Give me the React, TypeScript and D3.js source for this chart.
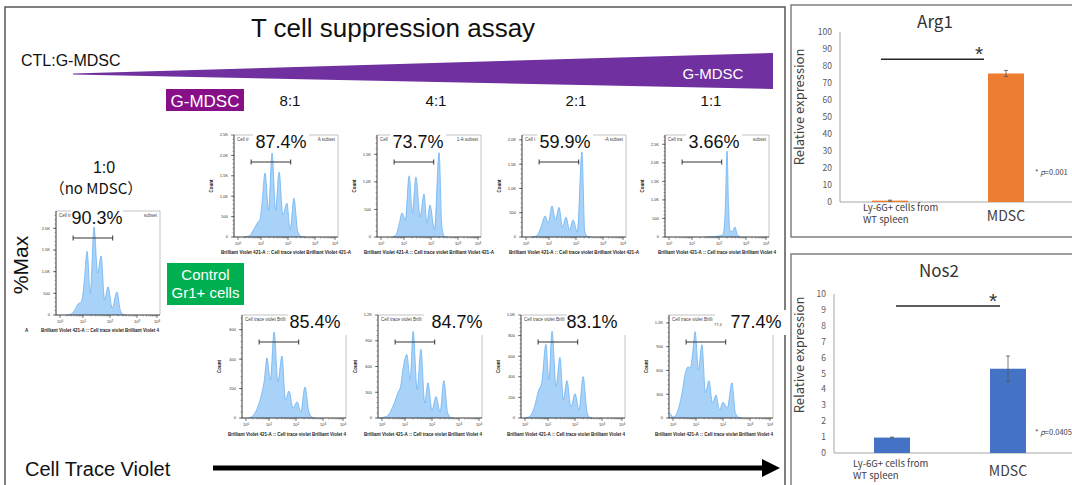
import React from 'react';
import * as d3 from 'd3';

type Pt = [number, number];

// histogram traces: [decade of Cell Trace Violet, count]
const noMdscHist: Pt[] = [[0.3,0],[0.5,25],[0.66,130],[0.78,250],[0.87,280],[0.96,360],[1.05,800],[1.15,1470],[1.27,505],[1.41,2030],[1.54,965],[1.67,1360],[1.8,345],[1.93,650],[2.08,160],[2.26,530],[2.38,110],[2.48,15],[2.6,0]];
const mdsc81Hist: Pt[] = [[0.25,0],[0.5,30],[0.7,200],[0.87,370],[0.95,420],[1.04,850],[1.15,1570],[1.28,660],[1.41,2060],[1.54,660],[1.67,1590],[1.81,540],[1.96,830],[2.08,170],[2.22,950],[2.36,140],[2.5,10],[2.65,0]];
const mdsc41Hist: Pt[] = [[0.5,0],[0.65,40],[0.8,250],[0.91,436],[1.05,310],[1.19,1110],[1.31,435],[1.44,1090],[1.6,365],[1.74,780],[1.85,255],[1.96,580],[2.13,130],[2.3,1530],[2.4,200],[2.5,10],[2.6,0]];
const mdsc21Hist: Pt[] = [[0.25,0],[0.45,20],[0.65,200],[0.83,430],[0.97,290],[1.11,640],[1.24,350],[1.37,610],[1.5,205],[1.63,410],[1.76,145],[1.89,350],[2.05,105],[2.22,1750],[2.32,150],[2.42,10],[2.55,0]];
const mdsc11Hist: Pt[] = [[1.5,0],[1.8,10],[2.05,35],[2.16,90],[2.23,700],[2.3,2320],[2.35,900],[2.41,160],[2.5,150],[2.59,270],[2.68,60],[2.8,0]];
const ctrl81Hist: Pt[] = [[0.1,0],[0.3,15],[0.5,70],[0.7,177],[0.8,260],[0.91,408],[1.05,258],[1.19,585],[1.33,245],[1.48,421],[1.61,122],[1.74,183],[1.89,68],[2.04,109],[2.18,40],[2.33,211],[2.48,40],[2.6,5],[2.7,0]];
const ctrl41Hist: Pt[] = [[-0.1,0],[0.2,20],[0.5,150],[0.7,300],[0.8,360],[0.93,600],[1.07,741],[1.19,447],[1.3,1010],[1.45,330],[1.59,800],[1.73,176],[1.85,410],[2.0,94],[2.15,250],[2.3,70],[2.44,435],[2.58,60],[2.7,5],[2.8,0]];
const ctrl21Hist: Pt[] = [[0.0,0],[0.2,15],[0.4,100],[0.6,275],[0.72,330],[0.91,716],[1.03,372],[1.15,843],[1.3,304],[1.44,588],[1.57,176],[1.7,363],[1.85,108],[2.0,235],[2.15,78],[2.3,402],[2.45,50],[2.55,5],[2.65,0]];
const ctrl11Hist: Pt[] = [[-0.1,60],[0.0,10],[0.15,50],[0.35,250],[0.55,580],[0.65,645],[0.75,630],[0.85,800],[0.96,1090],[1.09,607],[1.22,925],[1.35,316],[1.48,470],[1.61,190],[1.74,290],[1.87,100],[2.0,200],[2.16,127],[2.33,445],[2.46,60],[2.6,5],[2.7,0]];

const ratioLabels = ['8:1', '4:1', '2:1', '1:1'];
const mdscPercents = ['87.4%', '73.7%', '59.9%', '3.66%'];
const controlPercents = ['85.4%', '84.7%', '83.1%', '77.4%'];
const noMdscPercent = '90.3%';
const mdscYMax = [2500, 1850, 2100, 2750];
const mdscYTicks = [[0, 500, 1000, 1500, 2000, 2500], [0, 500, 1000, 1500], [0, 500, 1000, 1500, 2000], [0, 500, 1000, 1500, 2000, 2500]];
const controlYMax = [700, 1200, 1000, 1300];
const controlYTicks = [[0, 200, 400, 600], [0, 300, 600, 900, 1200], [0, 200, 400, 600, 800, 1000], [0, 300, 600, 900, 1200]];
const noMdscYMax = 2400;
const noMdscYTicks = [0, 500, 1000, 1500, 2000];
const gateDecades = [0.57, 2.1];
const xDecades = [0, 1, 2, 3, 4];
const mdscHeadL = ['Cell tr', 'Cell', 'Cell t', 'Cell tra'];
const mdscHeadR = ['A subset', '1-A subset', '-A subset', 'subset'];

const barCategories = ['Ly-6G+ cells from WT spleen', 'MDSC'];
const arg1Values = [0.8, 75.6];
const arg1Errors = [0.3, 1.8];
const nos2Values = [0.97, 5.3];
const nos2Errors = [0.03, 0.8];

const SANS = 'Liberation Sans, Arial, sans-serif';
const JP = '"Noto Sans CJK JP", "Noto Sans", sans-serif';

const fmtCount = (v: number) => (v >= 1000 ? (v / 1000).toFixed(1) + 'K' : String(v));

function Histogram(p: any) {
  const { left, top, bottom, data, yMax, yTicks, pct, pctX, pctBox, headL, headR, xLabel, xLabelX, xLabelW, xLabelY, count } = p;
  const width = 104;
  const x = d3.scaleLinear().domain([-0.15, 0, 1, 2, 3, 4]).range([0, 4, 27, 54, 81, 101].map(v => left + v)).clamp(true);
  const y = d3.scaleLinear().domain([0, yMax]).range([bottom, top]);
  const area = d3.area<Pt>().x(d => x(d[0])).y0(bottom).y1(d => y(d[1])).curve(d3.curveMonotoneX);
  const line = d3.line<Pt>().x(d => x(d[0])).y(d => y(d[1])).curve(d3.curveMonotoneX);
  const minorX: number[] = [];
  for (let d = 0; d < 4; d++) for (let k = 2; k < 10; k++) minorX.push(d + Math.log10(k));
  const step = yTicks[1] - yTicks[0];
  const minorY = d3.range(0, yMax, step / 5);
  const gy = top + 27;
  return (
    <g fontFamily={SANS}>
      <path d={area(data) || ''} fill="#a9d2f8" />
      <path d={line(data) || ''} fill="none" stroke="#6cb2f2" strokeWidth={0.8} />
      <line x1={left} x2={left + width} y1={top} y2={top} stroke="#aaa" strokeWidth={0.7} />
      <line x1={left + width} x2={left + width} y1={top} y2={bottom} stroke="#aaa" strokeWidth={0.7} />
      <line x1={left} x2={left} y1={top} y2={bottom} stroke="#222" strokeWidth={0.9} />
      <line x1={left} x2={left + width} y1={bottom} y2={bottom} stroke="#222" strokeWidth={0.9} />
      {minorY.map((v, i) => (
        <line key={'my' + i} x1={left - 1.5} x2={left} y1={y(v)} y2={y(v)} stroke="#333" strokeWidth={0.4} />
      ))}
      {yTicks.map((v: number) => (
        <g key={'y' + v}>
          <line x1={left - 3} x2={left} y1={y(v)} y2={y(v)} stroke="#222" strokeWidth={0.6} />
          <text x={left - 6} y={y(v) + 1.4} fontSize={4} textAnchor="end" fill="#333">{fmtCount(v)}</text>
        </g>
      ))}
      {minorX.map((v, i) => (
        <line key={'mx' + i} x1={x(v)} x2={x(v)} y1={bottom} y2={bottom + 1.5} stroke="#333" strokeWidth={0.4} />
      ))}
      {xDecades.map(d => (
        <g key={'x' + d}>
          <line x1={x(d)} x2={x(d)} y1={bottom} y2={bottom + 3} stroke="#222" strokeWidth={0.6} />
          <text x={x(d)} y={bottom + 8} fontSize={4} textAnchor="middle" fill="#333">
            10<tspan fontSize={3} dy={-1.5}>{d}</tspan>
          </text>
        </g>
      ))}
      <line x1={x(gateDecades[0])} x2={x(gateDecades[1])} y1={gy} y2={gy} stroke="#333" strokeWidth={1.2} />
      <line x1={x(gateDecades[0])} x2={x(gateDecades[0])} y1={gy - 2.5} y2={gy + 2.5} stroke="#333" strokeWidth={1} />
      <line x1={x(gateDecades[1])} x2={x(gateDecades[1])} y1={gy - 2.5} y2={gy + 2.5} stroke="#333" strokeWidth={1} />
      <text x={left + 3} y={top + 6} fontSize={4.5} fill="#444">{headL}</text>
      {headR && <text x={left + width - 3} y={top + 6} fontSize={4.5} fill="#444" textAnchor="end">{headR}</text>}
      <rect x={pctBox[0]} y={pctBox[1]} width={pctBox[2]} height={pctBox[3]} fill="#fff" />
      <text x={pctX} y={top + 12.5} fontSize={18} textAnchor="middle" fill="#111">{pct}</text>
      {count && (
        <text transform={`translate(${left - 21},${(top + bottom) / 2}) rotate(-90)`} fontSize={4.5} fontWeight="bold" textAnchor="middle" fill="#222">Count</text>
      )}
      <text x={xLabelX} y={xLabelY} fontSize={4.5} fontWeight="bold" textAnchor="middle" fill="#222" textLength={xLabelW} lengthAdjust="spacingAndGlyphs">{xLabel}</text>
    </g>
  );
}

function BarPanel(p: any) {
  const { title, titleX, titleY, values, errors, color, yMax, yRange, axisX, band, ylabelY, sigVal, sigX, starX, pText, pY, catX, catY, mdscY, frameTop, frameBottom } = p;
  const y = d3.scaleLinear().domain([0, yMax]).range(yRange);
  const x = d3.scaleBand<string>().domain(barCategories).range(band);
  const ticks = d3.range(0, yMax + 0.001, yMax / 10);
  const bw = 36;
  const words = barCategories[0].split(' WT ');
  return (
    <g fontFamily={JP}>
      <rect x={791} y={frameTop} width={300} height={frameBottom - frameTop} fill="none" stroke="#808080" strokeWidth={1.5} />
      <text x={titleX} y={titleY} fontSize={17} textAnchor="middle" fill="#333">{title}</text>
      <text transform={`translate(804,${ylabelY}) rotate(-90)`} fontSize={13} textAnchor="middle" fill="#404040">Relative expression</text>
      <line x1={axisX} x2={axisX} y1={yRange[0]} y2={yRange[1]} stroke="#a6a6a6" strokeWidth={1} />
      <line x1={axisX} x2={1072} y1={yRange[0]} y2={yRange[0]} stroke="#a6a6a6" strokeWidth={1} />
      {ticks.map(t => (
        <text key={t} x={axisX - 8} y={y(t) + 3} fontSize={8.5} textAnchor="end" fill="#595959">{Math.round(t)}</text>
      ))}
      {barCategories.map((c, i) => {
        const cx = (x(c) as number) + x.bandwidth() / 2;
        return (
          <g key={c}>
            <rect x={cx - bw / 2} y={y(values[i])} width={bw} height={y(0) - y(values[i])} fill={color} />
            <line x1={cx} x2={cx} y1={y(values[i] + errors[i])} y2={y(values[i] - errors[i])} stroke="#595959" strokeWidth={0.8} />
            <line x1={cx - 2} x2={cx + 2} y1={y(values[i] + errors[i])} y2={y(values[i] + errors[i])} stroke="#595959" strokeWidth={0.8} />
            <line x1={cx - 2} x2={cx + 2} y1={y(values[i] - errors[i])} y2={y(values[i] - errors[i])} stroke="#595959" strokeWidth={0.8} />
          </g>
        );
      })}
      <line x1={sigX[0]} x2={sigX[1]} y1={y(sigVal)} y2={y(sigVal)} stroke="#262626" strokeWidth={1.5} />
      <text x={starX} y={y(sigVal) + 2} fontSize={21} textAnchor="middle" fill="#333" fontFamily={SANS}>*</text>
      <text x={1035} y={pY} fontSize={7.5} fill="#444">* <tspan fontStyle="italic">p</tspan>{pText}</text>
      <text x={catX} y={catY} fontSize={9.5} fill="#404040">{words[0]}</text>
      <text x={catX} y={catY + 12} fontSize={9.5} fill="#404040">{'WT ' + words[1]}</text>
      <text x={(x('MDSC') as number) + x.bandwidth() / 2} y={mdscY} fontSize={14} textAnchor="middle" fill="#404040">MDSC</text>
    </g>
  );
}

export default function App() {
  const topLefts = [234, 377, 522, 665];
  const botLefts = [242, 378, 521, 669];
  const mdscHists = [mdsc81Hist, mdsc41Hist, mdsc21Hist, mdsc11Hist];
  const ctrlHists = [ctrl81Hist, ctrl41Hist, ctrl21Hist, ctrl11Hist];
  const topPctDx = [47, 41, 43, 49];
  const botPctDx = [73, 79, 71, 87];
  const ratioX = [290, 436, 576, 711];
  const wedge = d3.line()([[73, 73.5], [773, 53], [773, 89], [73, 74.5]]) + 'Z';
  const longLabel = 'Brilliant Violet 421-A :: Cell trace violet Brilliant Violet 421-A';
  const shortLabel = 'Brilliant Violet 421-A :: Cell trace violet Brilliant Violet 4';
  return (
    <div style={{ position: 'absolute', left: 0, top: 0 }}>
      <svg width={1072} height={485} style={{ display: 'block', background: '#fff' }}>
        <rect x={5} y={7} width={780} height={490} fill="none" stroke="#555" strokeWidth={1.5} />
        <g fontFamily={SANS}>
          <text x={393} y={37} fontSize={26} textAnchor="middle" fill="#111">T cell suppression assay</text>
          <text x={21} y={66} fontSize={16} fill="#111">CTL:G-MDSC</text>
          <path d={wedge} fill="#7030a0" />
          <text x={713} y={79} fontSize={15} textAnchor="middle" fill="#fff">G-MDSC</text>
          <rect x={166} y={89} width={78} height={22} fill="#870f87" />
          <text x={205} y={106.5} fontSize={17} textAnchor="middle" fill="#fff">G-MDSC</text>
          {ratioLabels.map((r, i) => (
            <text key={r} x={ratioX[i]} y={106} fontSize={15} textAnchor="middle" fill="#111">{r}</text>
          ))}
          <text x={104} y={173} fontSize={16} textAnchor="middle" fill="#111">1:0</text>
          <text x={96} y={194} fontSize={15} textAnchor="middle" fill="#111" fontFamily={'"Noto Sans CJK JP", sans-serif'}>（no MDSC）</text>
          <text transform="translate(28,265) rotate(-90)" fontSize={21} textAnchor="middle" fill="#111">%Max</text>
          <rect x={167} y={263} width={77} height={42} fill="#00b050" />
          <text x={205.5} y={280} fontSize={15} textAnchor="middle" fill="#fff">Control</text>
          <text x={205.5} y={298} fontSize={15} textAnchor="middle" fill="#fff">Gr1+ cells</text>
          <text x={25} y={476} fontSize={20} fill="#111">Cell Trace Violet</text>
          <line x1={213} x2={765} y1={468} y2={468} stroke="#000" strokeWidth={5} />
          <path d={d3.line()([[762, 459], [780, 468], [762, 477]]) + 'Z'} fill="#000" />
          <text x={25} y={332} fontSize={4.5} fontWeight="bold" fill="#222">A</text>
        </g>

        <Histogram left={56} top={211} bottom={315} data={noMdscHist} yMax={noMdscYMax} yTicks={noMdscYTicks}
          pct={noMdscPercent} pctX={97} pctBox={[71, 207, 52, 17]} headL="Cell tr" headR="subset"
          xLabel={shortLabel} xLabelX={100} xLabelW={118} xLabelY={332} count={false} />

        {topLefts.map((L, i) => (
          <Histogram key={'t' + i} left={L} top={135} bottom={237} data={mdscHists[i]} yMax={mdscYMax[i]} yTicks={mdscYTicks[i]}
            pct={mdscPercents[i]} pctX={L + topPctDx[i]} pctBox={[L + topPctDx[i] - 28, 131, 56, 17]}
            headL={mdscHeadL[i]} headR={mdscHeadR[i]}
            xLabel={i === 3 ? shortLabel : longLabel} xLabelX={L + 52} xLabelW={i === 3 ? 118 : 130} xLabelY={254} count />
        ))}

        {botLefts.map((L, i) => (
          <Histogram key={'b' + i} left={L} top={315} bottom={418} data={ctrlHists[i]} yMax={controlYMax[i]} yTicks={controlYTicks[i]}
            pct={controlPercents[i]} pctX={L + botPctDx[i]} pctBox={[L + 46, 310, Math.max(64, botPctDx[i] + 34 - 46), 25]}
            headL="Cell trace violet Brilli" headR={null}
            xLabel={shortLabel} xLabelX={L + 45} xLabelW={118} xLabelY={436} count />
        ))}
        <text x={669 + 45} y={326} fontSize={4} fill="#444" fontFamily={SANS}>77.4</text>

        <BarPanel title="Arg1" titleX={935} titleY={28} values={arg1Values} errors={arg1Errors} color="#ed7d31"
          yMax={100} yRange={[202, 32]} axisX={840} band={[832, 1064]} ylabelY={107}
          sigVal={84} sigX={[881, 984]} starX={979} pText="=0.001" pY={175}
          catX={863} catY={211} mdscY={221} frameTop={5} frameBottom={237} />
        <BarPanel title="Nos2" titleX={939} titleY={277} values={nos2Values} errors={nos2Errors} color="#4472c4"
          yMax={10} yRange={[453, 294]} axisX={834} band={[834, 1066]} ylabelY={355}
          sigVal={9.25} sigX={[896, 1000]} starX={993} pText="=0.0405" pY={435}
          catX={853} catY={467} mdscY={476} frameTop={254} frameBottom={520} />
      </svg>
    </div>
  );
}
